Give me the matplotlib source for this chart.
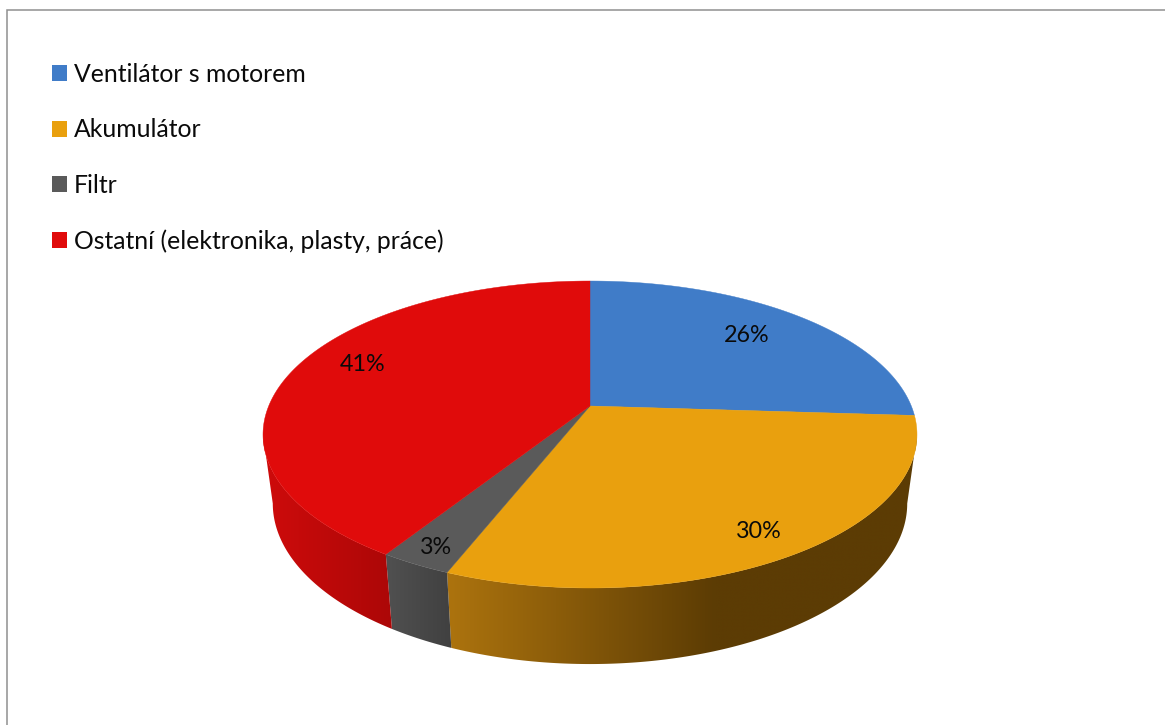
import numpy as np
import matplotlib
matplotlib.use("Agg")
import matplotlib.pyplot as plt
from matplotlib.patches import Polygon, Patch
from matplotlib.lines import Line2D

categories = ["Ventilátor s motorem", "Akumulátor", "Filtr", "Ostatní (elektronika, plasty, práce)"]
shares = [26, 30, 3, 41]
top_colors = ["#407CC8", "#E9A00E", "#5A5A5A", "#E00B0B"]

# side wall shading: colour at the left and right end of each gradient, with its x range
side_shades = {
    1: ((172, 115, 14), (92, 60, 4), 450, 715),
    2: ((80, 80, 80), (64, 64, 64), 388, 452),
    3: ((205, 11, 11), (172, 7, 7), 268, 392),
}

label_xy = [(747, 335), (759, 532), (436, 547), (363, 364)]

CX = 590.0
PERSP = 0.1857
TOP_Y, TOP_A, TOP_D = 406.0, 148.2, 321.3
LOW_Y, LOW_A, LOW_D = 473.7, 155.0, 311.7
SILHOUETTE = np.degrees(np.arccos(-PERSP))


def project(theta, radius, y0, a, d):
    """Clockwise angle from 12 o'clock on the disc to perspective pixel coordinates."""
    u = radius * np.sin(np.radians(theta))
    v = radius * np.cos(np.radians(theta))
    den = 1 + PERSP * v
    return CX + d * u / den, y0 - a * v / den


plt.rcParams["font.family"] = ["Lato", "DejaVu Sans"]
fig = plt.figure(figsize=(11.65, 7.25), dpi=100)
ax = fig.add_axes([0, 0, 1, 1])
ax.axis("off")

edges = np.concatenate([[0], np.cumsum(shares)]) * 3.6

# outer side walls, front part of the disc only
for i, (c0, c1, x0, x1) in side_shades.items():
    start = max(edges[i], SILHOUETTE)
    stop = min(edges[i + 1], 360 - SILHOUETTE)
    th = np.linspace(start, stop, 160)
    tx, ty = project(th, 1, TOP_Y, TOP_A, TOP_D)
    bx, by = project(th, 1, LOW_Y, LOW_A, LOW_D)
    pts = np.column_stack([np.r_[tx, bx[::-1]], np.r_[ty, by[::-1]]])
    wall = Polygon(pts, closed=True, facecolor="none", edgecolor="none")
    ax.add_patch(wall)
    n = 512
    lo, hi = pts[:, 0].min() - 2, pts[:, 0].max() + 2
    xs = np.linspace(lo, hi, n)
    frac = np.clip((xs - x0) / (x1 - x0), 0, 1)[None, :, None]
    grad = (np.array(c0)[None, None, :] * (1 - frac) + np.array(c1)[None, None, :] * frac) / 255
    im = ax.imshow(grad, extent=(lo, hi, pts[:, 1].max() + 2, pts[:, 1].min() - 2),
                   aspect="auto", interpolation="bilinear", zorder=2)
    im.set_clip_path(wall)

# top face wedges
for i, col in enumerate(top_colors):
    th = np.linspace(edges[i], edges[i + 1], 200)
    x, y = project(th, 1, TOP_Y, TOP_A, TOP_D)
    pts = np.column_stack([np.r_[CX, x], np.r_[TOP_Y, y]])
    ax.add_patch(Polygon(pts, closed=True, facecolor=col, edgecolor=col, lw=0.3, zorder=3))

for v, (x, y) in zip(shares, label_xy):
    ax.text(x, y, f"{v}%", ha="center", va="center", fontsize=16.8, color="#0a0a0a", zorder=5)

# chart frame: only its top and left edges are in view
ax.add_line(Line2D([7, 7, 1165], [725, 9.5, 9.5], color="#8f8f8f", lw=1.1, zorder=6,
                   solid_joinstyle="miter"))

handles = [Patch(facecolor=c, edgecolor="none") for c in top_colors]
ax.legend(handles, categories, loc="upper left", bbox_to_anchor=(42, 53), bbox_transform=ax.transData,
          frameon=False, fontsize=17.85, handlelength=0.61, handleheight=0.61, handletextpad=0.28,
          labelspacing=1.31, borderpad=0.4, borderaxespad=0, labelcolor="#0a0a0a")

ax.set_xlim(0, 1165)
ax.set_ylim(725, 0)
fig.savefig("out.png", dpi=100, facecolor="white")
